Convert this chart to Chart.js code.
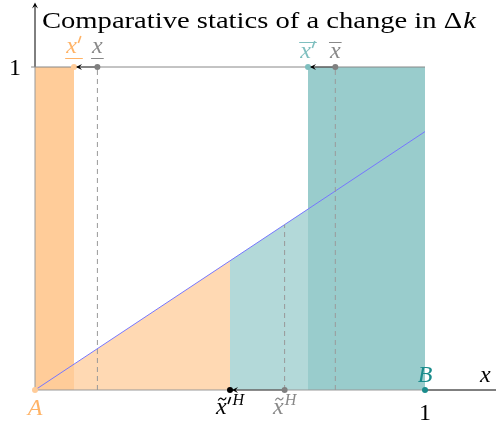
<!DOCTYPE html>
<html>
<head>
<meta charset="utf-8">
<script src="https://cdn.jsdelivr.net/npm/chart.js@4/dist/chart.umd.min.js"></script>
<style>
  html, body { margin: 0; padding: 0; background: #fff; }
  #wrap { width: 496px; height: 425px; position: relative; }
</style>
</head>
<body>
<div id="wrap"><canvas id="chart"></canvas></div>
<script>
// thresholds (x in [0,1])
const markerNames = ["x'", "x", "x̄'", "x̄", "x̃'H", "x̃H"];
const markerX = [0.10, 0.16, 0.70, 0.77, 0.50, 0.64];

// the blue line, y = 0.8 x, at the points we need
const lineX = [0, 0.10, 0.50, 0.64, 0.70, 1];
const lineY = [0, 0.08, 0.40, 0.512, 0.56, 0.80];

const colors = {
  orangeDark: "#FFCC99",
  orangeLight: "#FFD9B3",
  tealDark: "#99CCCC",
  tealLight: "#B3D9D9",
  blue: "#7676FF",
  gray: "#999999",
  orangeText: "#FFB366",
  tealText: "#7FBFBF",
  teal: "#1A8C8C"
};

const FAMILY = "'Liberation Serif', 'Times New Roman', serif";

const [xP, xL, xBP, xB, xTP, xT] = markerX;
const lineAt = v => lineY[lineX.indexOf(v)];

const pts = (xs, ys) => xs.map((x, i) => ({ x: x, y: ys[i] }));

const fillSet = (data, color) => ({
  type: "line", data: data, fill: "origin", backgroundColor: color,
  borderWidth: 0, pointRadius: 0, order: 10
});
const lineSet = (data, color, width, dash) => ({
  type: "line", data: data, fill: false, borderColor: color,
  borderWidth: width, borderDash: dash || [], pointRadius: 0, order: 5
});
const dotSet = (data, color) => ({
  type: "scatter", data: data, backgroundColor: color, borderWidth: 0,
  pointRadius: 3, order: 1
});

const datasets = [
  fillSet(pts([0, xP], [1, 1]), colors.orangeDark),
  fillSet(pts([xP, xTP], [lineAt(xP), lineAt(xTP)]), colors.orangeLight),
  fillSet(pts([xTP, xBP], [lineAt(xTP), lineAt(xBP)]), colors.tealLight),
  fillSet(pts([xBP, 1], [1, 1]), colors.tealDark),
  // box edges
  lineSet(pts([-0.01, 1], [1, 1]), "#888888", 1),
  lineSet(pts([0, 1], [0, 0]), "#999999", 1),
  lineSet(pts([0, 0], [0, 1]), "#999999", 1),
  // axes past the box
  lineSet(pts([1, 1.2], [0, 0]), "#000000", 1),
  lineSet(pts([0, 0], [1, 1.19]), "#000000", 1),
  // dashed guides
  lineSet(pts([xL, xL], [0, 1]), colors.gray, 1, [5, 4]),
  lineSet(pts([xB, xB], [0, 1]), colors.gray, 1, [5, 4]),
  lineSet(pts([xT, xT], [0, lineAt(xT)]), colors.gray, 1, [5, 4]),
  // blue line
  lineSet(pts(lineX, lineY), colors.blue, 1),
  // shift arrows
  lineSet(pts([xL, xP], [1, 1]), "#000000", 1),
  lineSet(pts([xB, xBP], [1, 1]), "#000000", 1),
  lineSet(pts([xT, xTP], [0, 0]), "#000000", 1),
  // points
  dotSet(pts([xL, xB, xT], [1, 1, 0]), "#808080"),
  dotSet(pts([xP], [1]), colors.orangeDark),
  dotSet(pts([xBP], [1]), colors.tealText),
  dotSet(pts([xTP], [0]), "#000000"),
  dotSet(pts([0], [0]), colors.orangeDark),
  dotSet(pts([1], [0]), colors.teal)
];

function arrowHead(ctx, x, y, dir, color) {
  const len = 6, half = 3;
  const [dx, dy] = dir;
  ctx.save();
  ctx.fillStyle = color;
  ctx.beginPath();
  ctx.moveTo(x, y);
  ctx.lineTo(x - dx * len - dy * half, y - dy * len + dx * half);
  ctx.lineTo(x - dx * len * 0.6, y - dy * len * 0.6);
  ctx.lineTo(x - dx * len + dy * half, y - dy * len - dx * half);
  ctx.closePath();
  ctx.fill();
  ctx.restore();
}

function mathLabel(ctx, cx, base, text, color, opts) {
  opts = opts || {};
  const main = "italic 24px " + FAMILY;
  const small = "italic 16px " + FAMILY;
  ctx.save();
  ctx.fillStyle = color;
  ctx.strokeStyle = color;
  ctx.lineWidth = 1;
  ctx.textBaseline = "alphabetic";
  ctx.font = main;
  const w = ctx.measureText(text).width;
  const primeW = opts.prime ? 5 : 0;
  let supW = 0;
  if (opts.sup) {
    ctx.font = small;
    supW = ctx.measureText(opts.sup).width + 1;
  }
  const total = w + primeW + supW;
  const x0 = cx - total / 2;
  ctx.font = main;
  ctx.fillText(text, x0, base);
  let x1 = x0 + w;
  if (opts.prime) {
    ctx.lineWidth = 1.6;
    ctx.beginPath();
    ctx.moveTo(x1 + 4, base - 17);
    ctx.lineTo(x1 + 1.5, base - 10);
    ctx.stroke();
    ctx.lineWidth = 1;
    x1 += primeW;
  }
  if (opts.sup) {
    ctx.font = small;
    ctx.fillText(opts.sup, x1 + 1, base - 9);
  }
  if (opts.tilde) {
    ctx.lineWidth = 1.2;
    const tx = x0 + w / 2 + 1, ty = base - 15;
    ctx.beginPath();
    ctx.moveTo(tx - 4, ty + 1.5);
    ctx.bezierCurveTo(tx - 2, ty - 2, tx - 1, ty - 1, tx, ty);
    ctx.bezierCurveTo(tx + 1, ty + 1, tx + 2, ty + 2, tx + 4, ty - 1.5);
    ctx.stroke();
    ctx.lineWidth = 1;
  }
  const end = x0 + w + primeW + 1;
  if (opts.under) {
    ctx.beginPath();
    ctx.moveTo(x0 - 1, base + 5.5);
    ctx.lineTo(end, base + 5.5);
    ctx.stroke();
  }
  if (opts.over) {
    ctx.beginPath();
    ctx.moveTo(x0 - 1, base - 15.5);
    ctx.lineTo(end, base - 15.5);
    ctx.stroke();
  }
  ctx.restore();
}

const overlay = {
  id: "overlay",
  afterDatasetsDraw(chart) {
    const ctx = chart.ctx;
    const sx = chart.scales.x, sy = chart.scales.y;
    const px = v => sx.getPixelForValue(v);
    const py = v => sy.getPixelForValue(v);

    // arrowheads
    arrowHead(ctx, px(xP) + 2, py(1), [-1, 0], "#000");
    arrowHead(ctx, px(xBP) + 2, py(1), [-1, 0], "#000");
    arrowHead(ctx, px(xTP) + 2, py(0), [-1, 0], "#000");
    arrowHead(ctx, px(0), py(1.2), [0, -1], "#000");

    // title
    ctx.save();
    ctx.fillStyle = "#000";
    ctx.font = "24px " + FAMILY;
    const t1 = "Comparative statics of a change in Δ";
    const w1 = ctx.measureText(t1).width;
    ctx.font = "italic 24px " + FAMILY;
    const w2 = ctx.measureText("k").width;
    const scale = 434 / (w1 + w2 + 1);
    ctx.translate(42, 28);
    ctx.scale(scale, 1);
    ctx.font = "24px " + FAMILY;
    ctx.fillText(t1, 0, 0);
    ctx.font = "italic 24px " + FAMILY;
    ctx.fillText("k", w1 + 1, 0);
    ctx.restore();

    // numeric ticks
    ctx.save();
    ctx.fillStyle = "#000";
    ctx.font = "24px " + FAMILY;
    ctx.textAlign = "center";
    ctx.fillText("1", px(0) - 20, py(1) + 8);
    ctx.fillText("1", px(1), py(0) + 30);
    ctx.restore();

    // threshold labels
    mathLabel(ctx, px(xP), py(1) - 14, "x", colors.orangeText, { prime: true, under: true });
    mathLabel(ctx, px(xL), py(1) - 14, "x", "#888888", { under: true });
    mathLabel(ctx, px(xBP), py(1) - 9, "x", colors.tealText, { prime: true, over: true });
    mathLabel(ctx, px(xB), py(1) - 9, "x", "#888888", { over: true });
    mathLabel(ctx, px(xTP), py(0) + 24, "x", "#000000", { prime: true, sup: "H", tilde: true });
    mathLabel(ctx, px(xT), py(0) + 24, "x", "#888888", { sup: "H", tilde: true });

    // point names and axis name
    mathLabel(ctx, px(0), py(0) + 25, "A", colors.orangeText);
    mathLabel(ctx, px(1), py(0) - 8, "B", colors.teal);
    mathLabel(ctx, px(1.155), py(0) - 8, "x", "#000000");
  }
};

function draw() {
  new Chart(document.getElementById("chart"), {
    type: "scatter",
    data: { datasets: datasets },
    options: {
      responsive: true,
      maintainAspectRatio: false,
      animation: false,
      layout: { padding: 0, autoPadding: false },
      plugins: { legend: { display: false }, tooltip: { enabled: false } },
      scales: {
        x: { type: "linear", display: false, min: -35 / 390, max: 461 / 390 },
        y: { type: "linear", display: false, min: -35 / 323, max: 390 / 323 }
      }
    },
    plugins: [overlay]
  });
}

Promise.all([
  document.fonts.load("24px 'Liberation Serif'"),
  document.fonts.load("italic 24px 'Liberation Serif'")
]).then(draw, draw);
</script>
</body>
</html>
